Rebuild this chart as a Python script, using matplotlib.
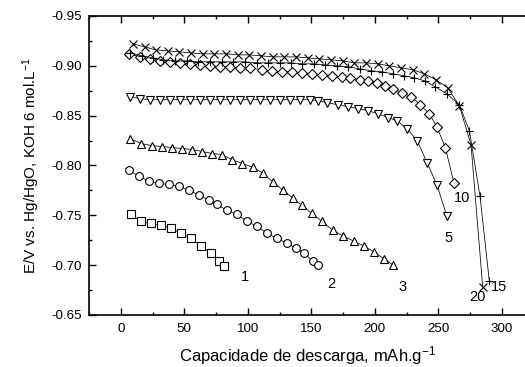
import matplotlib
matplotlib.use("Agg")
import matplotlib.pyplot as plt
from matplotlib.ticker import MultipleLocator, FormatStrFormatter

plt.rcParams['font.family'] = ['Liberation Sans', 'DejaVu Sans']
plt.rcParams['mathtext.fontset'] = 'custom'
plt.rcParams['mathtext.rm'] = 'Liberation Sans'
plt.rcParams['mathtext.it'] = 'Liberation Sans:italic'
plt.rcParams['mathtext.bf'] = 'Liberation Sans:bold'
plt.rcParams['axes.unicode_minus'] = False

# ---- data (capacity mAh/g, potential V) ----
x1 = [7.9, 15.7, 23.6, 31.7, 39.6, 47.5, 55.4, 63.3, 71.1, 77.4, 81.3]
y1 = [-0.751, -0.744, -0.742, -0.740, -0.737, -0.732, -0.727, -0.719, -0.712, -0.704, -0.699]

x2 = [6.8, 14.6, 22.5, 30.4, 38.3, 46.1, 54.0, 61.9, 69.8, 75.6, 83.5, 91.4, 99.3,
      107.2, 115.0, 122.8, 130.7, 138.0, 144.6, 151.2, 155.6]
y2 = [-0.795, -0.789, -0.784, -0.782, -0.781, -0.779, -0.775, -0.770, -0.765, -0.761,
      -0.755, -0.751, -0.744, -0.739, -0.732, -0.727, -0.722, -0.717, -0.712, -0.704, -0.700]

x3 = [7.3, 16.0, 24.4, 32.3, 40.6, 48.5, 56.4, 64.3, 72.1, 79.5, 87.4, 95.7, 104.4,
      112.3, 120.2, 128.0, 135.9, 142.5, 150.4, 158.3, 166.9, 175.3, 183.7, 191.8,
      199.7, 207.6, 214.6]
y3 = [-0.827, -0.822, -0.820, -0.819, -0.818, -0.817, -0.816, -0.814, -0.812, -0.811,
      -0.806, -0.802, -0.798, -0.792, -0.783, -0.775, -0.767, -0.760, -0.752, -0.744,
      -0.735, -0.729, -0.724, -0.719, -0.713, -0.706, -0.700]

x5 = [7.3, 15.2, 23.1, 30.9, 38.8, 46.7, 54.6, 62.4, 70.3, 78.2, 86.1, 93.9, 101.8,
      109.7, 117.6, 125.4, 133.3, 141.2, 149.1, 155.4, 162.4, 171.1, 179.0, 186.9,
      194.7, 202.6, 210.5, 217.6, 225.4, 233.3, 241.2, 249.1, 256.9]
y5 = [-0.869, -0.867, -0.866, -0.866, -0.866, -0.866, -0.866, -0.866, -0.866, -0.866,
      -0.866, -0.866, -0.866, -0.866, -0.866, -0.866, -0.866, -0.866, -0.866, -0.865,
      -0.863, -0.861, -0.859, -0.857, -0.855, -0.852, -0.848, -0.845, -0.837, -0.825,
      -0.803, -0.780, -0.749]

x10 = [6.8, 15.2, 23.1, 30.9, 38.8, 46.7, 54.6, 62.4, 70.3, 78.2, 86.1, 93.9, 101.8,
       111.3, 118.9, 126.8, 134.6, 142.5, 150.4, 158.3, 166.1, 174.0, 180.6, 188.4,
       195.0, 201.6, 208.1, 214.6, 221.5, 228.6, 235.7, 243.0, 248.8, 255.6, 262.4]
y10 = [-0.912, -0.909, -0.907, -0.905, -0.904, -0.903, -0.902, -0.901, -0.900, -0.899,
       -0.899, -0.898, -0.898, -0.896, -0.895, -0.894, -0.894, -0.893, -0.892, -0.891,
       -0.890, -0.889, -0.888, -0.886, -0.885, -0.883, -0.880, -0.877, -0.873, -0.869,
       -0.861, -0.852, -0.839, -0.818, -0.782]

x15 = [7.3, 16.4, 25.2, 33.5, 42.8, 52.0, 61.1, 70.3, 79.5, 88.7, 97.9, 107.1, 116.0,
       125.0, 134.1, 142.8, 151.8, 160.9, 169.9, 179.0, 188.0, 197.1, 205.7, 214.4,
       223.1, 231.0, 239.2, 247.5, 256.7, 266.6, 274.5, 282.9, 290.2]
y15 = [-0.913, -0.910, -0.908, -0.906, -0.905, -0.905, -0.904, -0.904, -0.904, -0.904,
       -0.904, -0.903, -0.903, -0.903, -0.903, -0.902, -0.902, -0.901, -0.900, -0.899,
       -0.897, -0.895, -0.894, -0.892, -0.890, -0.888, -0.885, -0.879, -0.872, -0.861,
       -0.835, -0.769, -0.684]

x20 = [9.7, 18.7, 27.8, 37.0, 46.2, 55.4, 64.6, 73.8, 83.0, 92.1, 101.3, 110.5, 119.7,
       128.9, 138.0, 147.2, 156.4, 165.6, 174.8, 184.0, 193.1, 202.3, 211.5, 220.7,
       229.9, 239.1, 248.2, 257.4, 266.6, 275.8, 285.0]
y20 = [-0.922, -0.919, -0.916, -0.915, -0.914, -0.913, -0.912, -0.912, -0.912, -0.911,
       -0.911, -0.910, -0.909, -0.909, -0.909, -0.908, -0.907, -0.906, -0.905, -0.903,
       -0.903, -0.902, -0.900, -0.898, -0.896, -0.892, -0.886, -0.878, -0.860, -0.821,
       -0.678]

curve_labels = ["1", "2", "3", "5", "10", "20", "15"]
label_x = [97.9, 166.1, 221.7, 258.0, 268.5, 280.8, 298.1]
label_y = [-0.6885, -0.681, -0.678, -0.727, -0.767, -0.668, -0.678]

x_ticks = [0, 50, 100, 150, 200, 250, 300]
y_ticks = [-0.95, -0.90, -0.85, -0.80, -0.75, -0.70, -0.65]

# ---- figure ----
fig = plt.figure(figsize=(5.25, 3.67), dpi=100)
ax = fig.add_axes([89/525, 52/367, 436/525, 299/367])

common = dict(color='black', lw=0.55, mec='black', mew=0.8)
ax.plot(x1, y1, marker='s', ms=5.6, mfc='white', **common)
ax.plot(x2, y2, marker='o', ms=5.6, mfc='white', **common)
ax.plot(x3, y3, marker='^', ms=6.2, mfc='white', **common)
ax.plot(x5, y5, marker='v', ms=6.2, mfc='white', **common)
ax.plot(x10, y10, marker='D', ms=4.6, mfc='white', **common)
ax.plot(x15, y15, marker='+', ms=6.2, **common)
ax.plot(x20, y20, marker='x', ms=5.6, **common)

for t, lx, ly in zip(curve_labels, label_x, label_y):
    ax.text(lx, ly, t, ha='center', va='center', fontsize=10.5)

ax.set_xlim(-25, 318.3)
ax.set_ylim(-0.65, -0.95)
ax.set_xticks(x_ticks)
ax.set_yticks(y_ticks)
ax.xaxis.set_minor_locator(MultipleLocator(25))
ax.yaxis.set_minor_locator(MultipleLocator(0.025))
ax.yaxis.set_major_formatter(FormatStrFormatter('%.2f'))

ax.spines['right'].set_visible(False)
for s in ['left', 'bottom', 'top']:
    ax.spines[s].set_linewidth(1.2)

ax.tick_params(which='both', direction='in', top=True, right=False, width=1.0,
               labelsize=9.6)
ax.tick_params(which='major', length=5)
ax.tick_params(which='minor', length=2.5)
ax.tick_params(axis='x', which='major', pad=6)
ax.tick_params(axis='y', which='major', pad=5)

ax.set_xlabel('Capacidade de descarga, mAh.g$^{-1}$', fontsize=12, labelpad=6)
ax.set_ylabel('E/V vs. Hg/HgO, KOH 6 mol.L$^{-1}$', fontsize=11, labelpad=7)

fig.savefig('out.png', dpi=100)
